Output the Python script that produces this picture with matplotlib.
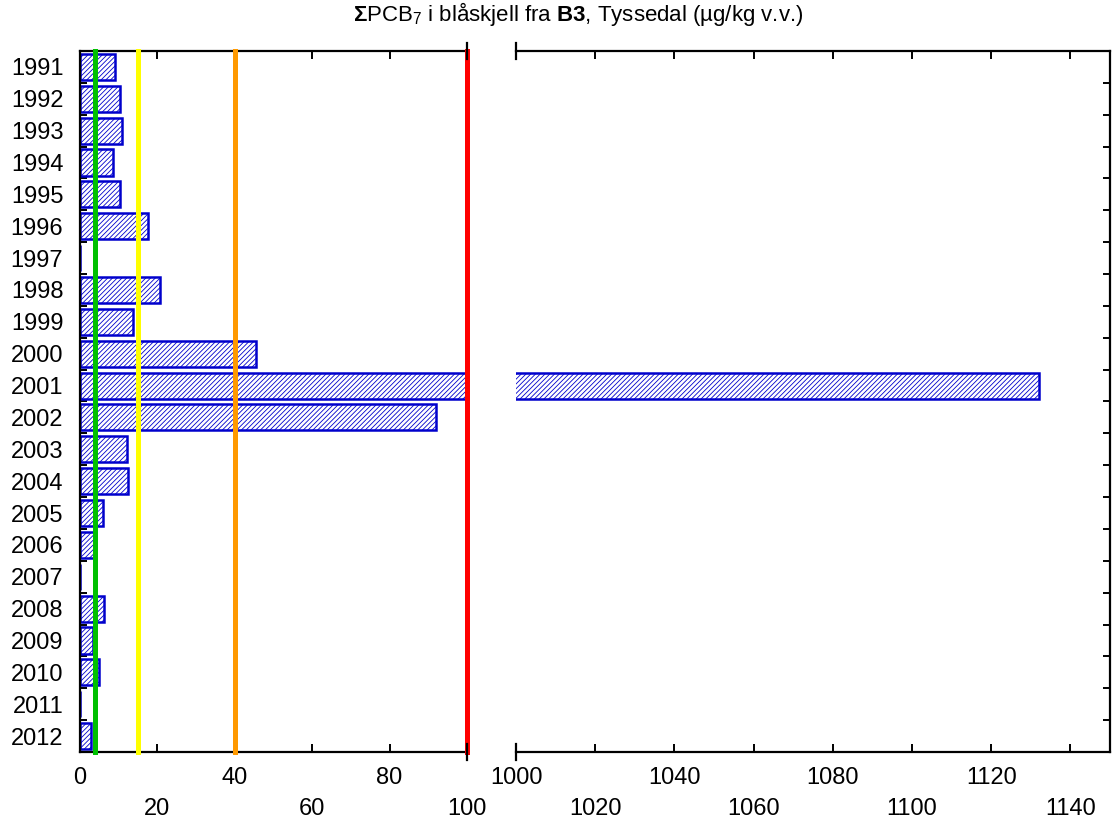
import numpy as np
import matplotlib
matplotlib.use("Agg")
import matplotlib.pyplot as plt
from matplotlib.ticker import FixedLocator

plt.rcParams['font.family'] = ['Liberation Sans', 'DejaVu Sans']
plt.rcParams['mathtext.fontset'] = 'custom'
plt.rcParams['mathtext.rm'] = 'Liberation Sans'
plt.rcParams['mathtext.bf'] = 'Liberation Sans:bold'
plt.rcParams['mathtext.it'] = 'Liberation Sans:italic'
plt.rcParams['hatch.linewidth'] = 0.6

years = list(range(1991, 2013))
values = [9.0, 10.3, 10.8, 8.4, 10.3, 17.5, np.nan, 20.7, 13.6, 45.5,
          1132.0, 92.0, 12.1, 12.4, 5.9, 3.6, np.nan, 6.1, 3.4, 4.9,
          np.nan, 2.8]
limit_values = [4, 15, 40, 100]
limit_colors = ['#00c000', '#ffff00', '#ff9900', '#ff0000']

left_ticks_top = [0, 40, 80]
left_ticks_bottom = [20, 60, 100]
right_ticks_top = [1000, 1040, 1080, 1120]
right_ticks_bottom = [1020, 1060, 1100, 1140]

title = r"$\mathbf{\Sigma}$PCB$_7$ i blåskjell fra $\mathbf{B3}$, Tyssedal (µg/kg v.v.)"

W, H = 1112, 825
fig = plt.figure(figsize=(W / 100, H / 100), dpi=100)
bot = (H - 752) / H
hgt = 701 / H
axL = fig.add_axes([80 / W, bot, 387 / W, hgt])
axR = fig.add_axes([516 / W, bot, 594 / W, hgt])

y = np.arange(len(years))
vals = np.array(values, dtype=float)
blue = '#0000cc'
for ax in (axL, axR):
    ax.barh(y, np.nan_to_num(vals), height=0.82, facecolor='white',
            edgecolor=blue, hatch='///////', linewidth=1.8, zorder=2)
    ax.set_ylim(len(years) - 0.5, -0.5)
    for s in ax.spines.values():
        s.set_linewidth(1.6)

axL.set_xlim(0, 100)
axR.set_xlim(1000, 1150)

for v, c in zip(limit_values, limit_colors):
    axL.axvline(v, color=c, linewidth=3.6, zorder=3, clip_on=False)

axL.spines['right'].set_visible(False)
axR.spines['left'].set_visible(False)

tl = 17
axL.set_yticks(y)
axL.set_yticklabels([str(v) for v in years], fontsize=tl)
axL.tick_params(axis='y', which='major', length=0, pad=12)
axL.yaxis.set_minor_locator(FixedLocator(np.arange(len(years) - 1) + 0.5))
axL.tick_params(axis='y', which='minor', direction='in', length=5, width=1.4,
                left=True, right=False)
axR.set_yticks([])
axR.yaxis.set_minor_locator(FixedLocator(np.arange(len(years) - 1) + 0.5))
axR.tick_params(axis='y', which='minor', direction='in', length=5, width=1.4,
                left=False, right=True, labelleft=False)

for ax, top, btm in ((axL, left_ticks_top, left_ticks_bottom),
                     (axR, right_ticks_top, right_ticks_bottom)):
    ax.set_xticks(top)
    ax.set_xticklabels([str(t) for t in top], fontsize=tl)
    ax.set_xticks(btm, minor=True)
    ax.set_xticklabels([str(t) for t in btm], minor=True, fontsize=tl)
    ax.tick_params(axis='x', which='major', direction='in', length=6, width=1.4,
                   top=True, bottom=True, pad=11)
    ax.tick_params(axis='x', which='minor', direction='in', length=6, width=1.4,
                   top=True, bottom=True, pad=33)

for ax, xv in ((axL, 1.0), (axR, 0.0)):
    for yv in (0.0, 1.0):
        ax.plot([xv, xv], [yv - 0.012, yv + 0.012], transform=ax.transAxes,
                color='black', linewidth=1.6, clip_on=False, zorder=5)

fig.text(578 / W, 1 - 14 / H, title, ha='center', va='center', fontsize=16)

fig.savefig('out.png', dpi=100)
